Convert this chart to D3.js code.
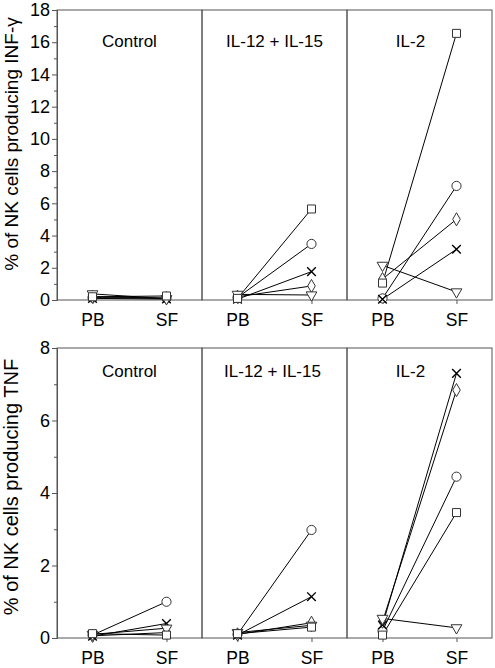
<!DOCTYPE html>
<html><head><meta charset="utf-8">
<script src="https://cdn.jsdelivr.net/npm/d3@7"></script>
<style>
html,body{margin:0;padding:0;background:#fff;}
text{font-family:"Liberation Sans",Arial,sans-serif;fill:#000;}
</style></head>
<body><svg id="c" width="495" height="668"></svg>
<script>
// ---- data ----
const panels = ["Control", "IL-12 + IL-15", "IL-2"];
const sites = ["PB", "SF"];
const markers = ["square", "circle", "cross", "diamond", "triangle"];
const drawOrder = ["circle", "diamond", "cross", "triangle", "square"];
// IFN-gamma (%), per panel: [PB values per donor], [SF values per donor]
const ifnPB = [[0.2, 0.15, 0.1, 0.2, 0.38], [0.1, 0.15, 0.05, 0.2, 0.35], [1.05, 0.1, 0.05, 1.3, 2.15]];
const ifnSF = [[0.25, 0.1, 0.06, 0.12, 0.08], [5.65, 3.48, 1.76, 0.87, 0.31], [16.55, 7.08, 3.15, 5.01, 0.5]];
// TNF (%)
const tnfPB = [[0.12, 0.08, 0.05, 0.06, 0.1], [0.12, 0.1, 0.08, 0.1, 0.15], [0.08, 0.2, 0.36, 0.45, 0.54]];
const tnfSF = [[0.08, 1.0, 0.4, 0.15, 0.27], [0.3, 2.98, 1.14, 0.42, 0.35], [3.46, 4.45, 7.3, 6.84, 0.28]];
const ifnTicks = [0, 2, 4, 6, 8, 10, 12, 14, 16, 18];
const tnfTicks = [0, 2, 4, 6, 8];
const ifnTitle = "% of NK cells producing INF-\u03b3";
const tnfTitle = "% of NK cells producing TNF";

const svg = d3.select("#c");
const left = 57, right = 492;
const xPanel = d3.scaleBand().domain(panels).range([left, right]).padding(0);
const xSite = d3.scalePoint().domain(sites).range([0, xPanel.bandwidth()]).padding(0.48);

function symbolPath(type) {
  const m = {square: d3.symbolSquare, circle: d3.symbolCircle, cross: d3.symbolTimes,
             diamond: d3.symbolDiamond, triangle: d3.symbolTriangle};
  const size = {square: 64, circle: 66, cross: 50, diamond: 50, triangle: 50}[type];
  return d3.symbol(m[type], size)();
}

function drawChart(cfg) {
  const y = d3.scaleLinear().domain([0, cfg.max]).range([cfg.bottom, cfg.top]);
  const g = svg.append("g");
  // panel boxes
  panels.forEach((p, i) => {
    g.append("rect").attr("x", xPanel(p)).attr("y", y(cfg.max))
      .attr("width", xPanel.bandwidth()).attr("height", y(0) - y(cfg.max))
      .attr("fill", "none").attr("stroke", "#555").attr("stroke-width", 1);
  });
  // y axis
  const minor = d3.range(1, cfg.max, 2);
  g.append("g").attr("transform", `translate(${left},0)`)
    .call(d3.axisLeft(y).tickValues(minor).tickSize(3).tickFormat(""))
    .call(a => a.select(".domain").remove())
    .call(a => a.selectAll("line").attr("stroke", "#555"));
  g.append("g").attr("transform", `translate(${left},0)`)
    .call(d3.axisLeft(y).tickValues(cfg.ticks).tickSize(5).tickPadding(2))
    .call(a => a.select(".domain").attr("stroke", "#555"))
    .call(a => a.selectAll("line").attr("stroke", "#555"))
    .call(a => a.selectAll("text").attr("font-size", 18).attr("font-family", "Liberation Sans, Arial, sans-serif"));
  // x axes per panel
  panels.forEach(p => {
    const xs = d3.scalePoint().domain(sites).range([xPanel(p), xPanel(p) + xPanel.bandwidth()]).padding(0.48);
    g.append("g").attr("transform", `translate(0,${y(0)})`)
      .call(d3.axisBottom(xs).tickSize(4).tickPadding(10))
      .call(a => a.select(".domain").remove())
      .call(a => a.selectAll("line").attr("stroke", "#555"))
      .call(a => a.selectAll("text").attr("font-size", 17.5).attr("font-family", "Liberation Sans, Arial, sans-serif"));
  });
  // y title
  g.append("text").attr("transform", `translate(${cfg.titleX},${cfg.titleY}) rotate(-90)`)
    .attr("text-anchor", "middle").attr("font-size", cfg.titleSize).text(cfg.title);
  // panel labels
  panels.forEach((p, i) => {
    g.append("text").attr("x", xPanel(p) + xPanel.bandwidth() / 2 + cfg.labelDx[i])
      .attr("y", y(cfg.max) + cfg.labelDy).attr("text-anchor", "middle")
      .attr("font-size", 17).text(p);
  });
  // lines and markers
  panels.forEach((p, i) => {
    const x0 = xPanel(p) + xSite("PB"), x1 = xPanel(p) + xSite("SF");
    markers.forEach((m, k) => {
      g.append("line").attr("x1", x0).attr("y1", y(cfg.pb[i][k]))
        .attr("x2", x1).attr("y2", y(cfg.sf[i][k]))
        .attr("stroke", "#000").attr("stroke-width", 1);
    });
    drawOrder.forEach((m) => {
      const k = markers.indexOf(m);
      [[x0, cfg.pb[i][k]], [x1, cfg.sf[i][k]]].forEach(([xx, v]) => {
        const rot = m === "triangle" ? " rotate(180)" : "";
        g.append("path").attr("d", symbolPath(m))
          .attr("transform", `translate(${xx},${y(v)})${rot}`)
          .attr("fill", m === "cross" ? "none" : "#fff")
          .attr("stroke", m === "cross" ? "#000" : "#333").attr("stroke-width", m === "cross" ? 1.4 : 1);
      });
    });
  });
}

drawChart({max: 18, ticks: ifnTicks, top: 10, bottom: 300, pb: ifnPB, sf: ifnSF,
  title: ifnTitle, titleX: 18, titleY: 144, titleSize: 19, labelDx: [0, 0, -9], labelDy: 37});
drawChart({max: 8, ticks: tnfTicks, top: 348, bottom: 638, pb: tnfPB, sf: tnfSF,
  title: tnfTitle, titleX: 18, titleY: 487, titleSize: 20, labelDx: [0, -2, -9], labelDy: 29});
</script></body></html>
